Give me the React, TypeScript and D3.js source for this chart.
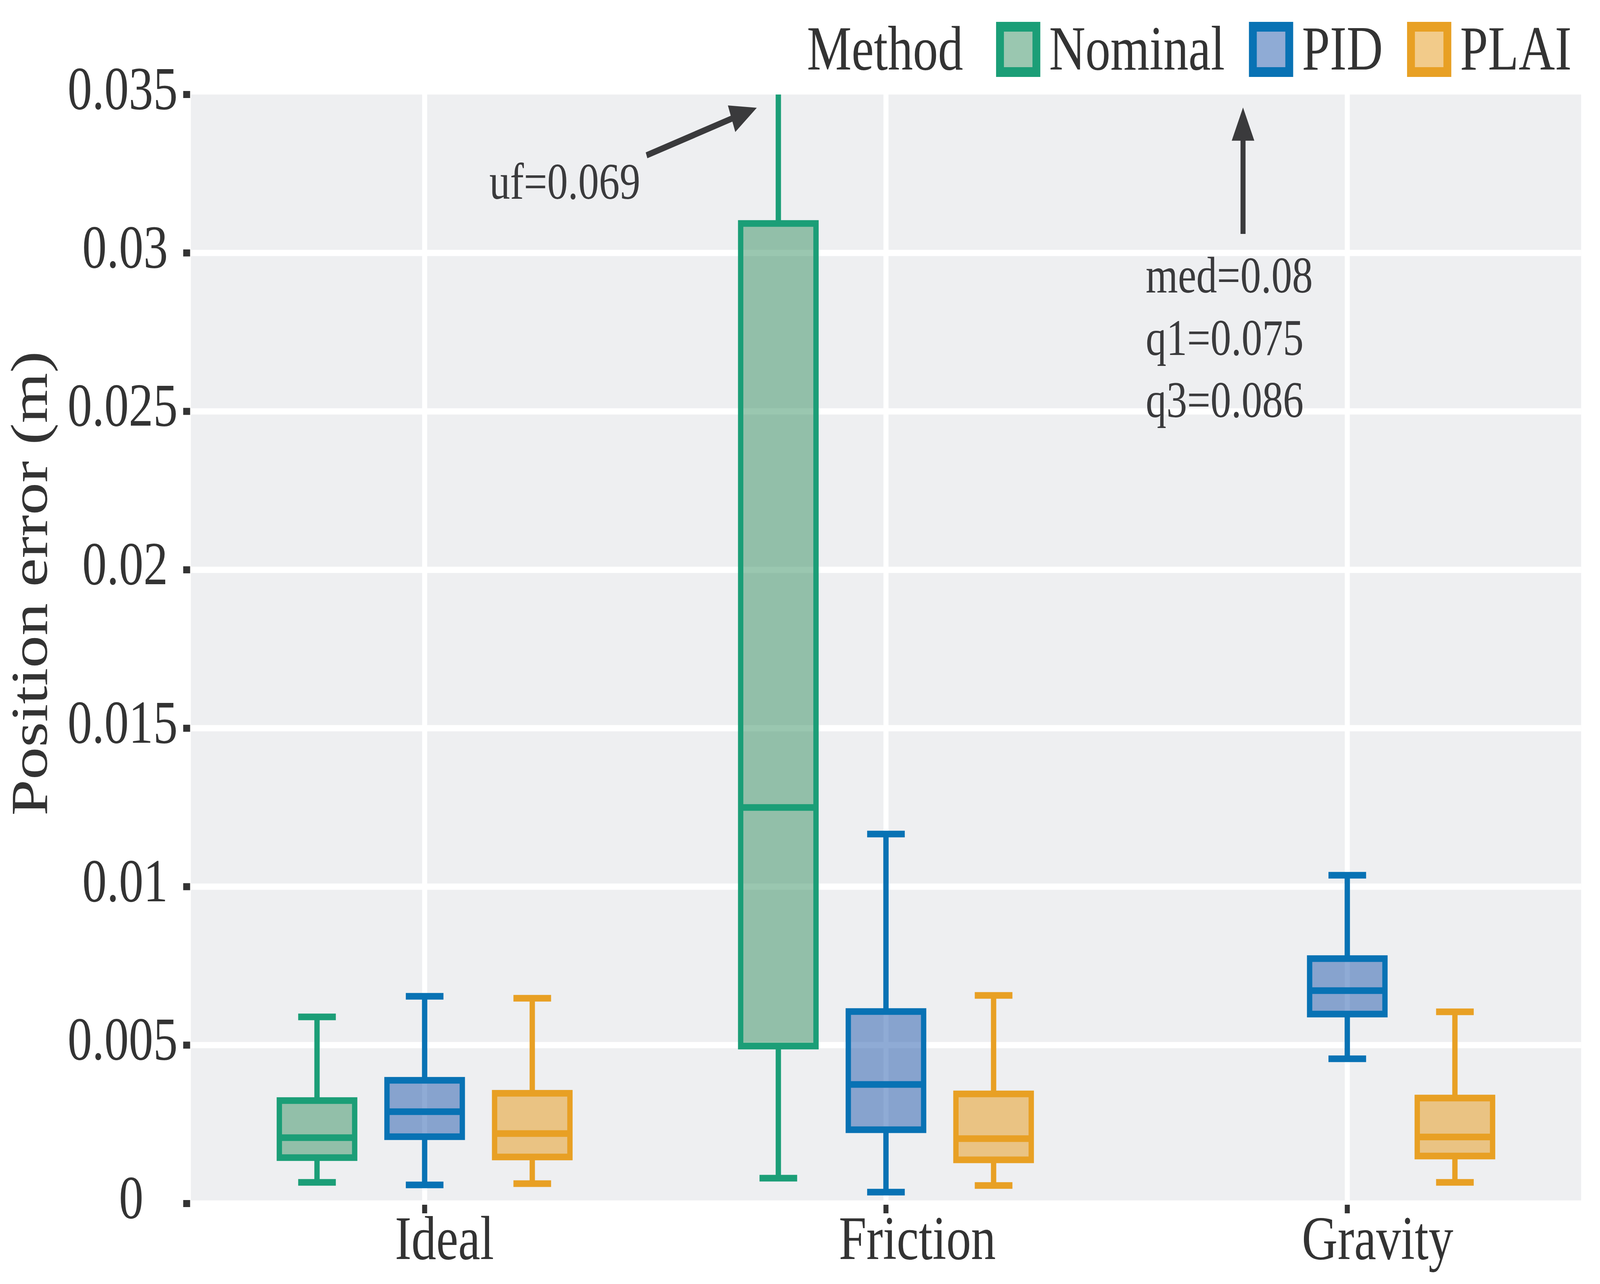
import React, { useEffect, useRef } from "react";
import * as d3 from "d3";

const categories = ["Ideal", "Friction", "Gravity"];
const methods = ["Nominal", "PID", "PLAI"];
const strokeColors = ["#1B9E77", "#0872B4", "#E8A024"];
const fillColors = ["#358F61", "#1F57AB", "#E59715"];

// [lower whisker, q1, median, q3, upper whisker] per category
const nominalStats = [
  [0.00067, 0.00145, 0.00208, 0.00325, 0.00589],
  [0.0008, 0.00497, 0.0125, 0.03093, 0.069],
  [0.07, 0.075, 0.08, 0.086, 0.095],
];
const pidStats = [
  [0.00059, 0.00211, 0.0029, 0.00389, 0.00654],
  [0.00036, 0.00233, 0.00376, 0.00606, 0.01166],
  [0.00457, 0.00598, 0.00672, 0.00773, 0.01036],
];
const plaiStats = [
  [0.00063, 0.00147, 0.00221, 0.00348, 0.00648],
  [0.00057, 0.00138, 0.00205, 0.00346, 0.00657],
  [0.00067, 0.0015, 0.0021, 0.00333, 0.00605],
];
const allStats = [nominalStats, pidStats, plaiStats];

const yTicks = [0, 0.005, 0.01, 0.015, 0.02, 0.025, 0.03, 0.035];
const yTickLabels = ["0", "0.005", "0.01", "0.015", "0.02", "0.025", "0.03", "0.035"];

const annotUf = "uf=0.069";
const annotGravity = ["med=0.08", "q1=0.075", "q3=0.086"];

const W = 5100;
const H = 3288;
const FONT = "'Liberation Serif', 'Times New Roman', Times, serif";

export default function App() {
  const ref = useRef<SVGSVGElement>(null);

  useEffect(() => {
    document.body.style.margin = "0";
    document.body.style.overflow = "hidden";
    const svg = d3.select(ref.current);
    svg.selectAll("*").remove();

    const pl = 608, pr = 5040, pt = 242, pb = 3074;
    const x = d3.scalePoint<string>().domain(categories).range([pl, pr]).padding(0.507);
    const step = x.step();
    const y = d3.scaleLinear().domain([0, 0.035]).range([3082, 242]);
    const xc = (i: number) => (x(categories[0]) as number) + i * step;

    const dodge = step * 0.2333;
    const boxW = step * 0.1633;
    const capW = step * 0.0816;
    const lw = 17;

    svg.append("rect").attr("width", W).attr("height", H).attr("fill", "#ffffff");

    const defs = svg.append("defs");
    defs.append("clipPath").attr("id", "panel").append("rect")
      .attr("x", pl).attr("y", pt).attr("width", pr - pl).attr("height", pb - pt);

    const panel = svg.append("g").attr("clip-path", "url(#panel)");
    panel.append("rect").attr("x", pl).attr("y", pt).attr("width", pr - pl).attr("height", pb - pt)
      .attr("fill", "#EEEFF1");

    // grid
    yTicks.filter((t) => t > 0 && t < 0.035).forEach((t) => {
      panel.append("line").attr("x1", pl).attr("x2", pr).attr("y1", y(t)).attr("y2", y(t))
        .attr("stroke", "#ffffff").attr("stroke-width", 16);
    });
    categories.forEach((c) => {
      panel.append("line").attr("x1", x(c)!).attr("x2", x(c)!).attr("y1", pt).attr("y2", pb)
        .attr("stroke", "#ffffff").attr("stroke-width", 16);
    });

    // boxes
    methods.forEach((m, mi) => {
      const g = panel.append("g");
      categories.forEach((c, ci) => {
        const [lo, q1, med, q3, hi] = allStats[mi][ci];
        const cx = (x(c) as number) + (mi - 1) * dodge;
        const col = strokeColors[mi];
        g.append("line").attr("x1", cx).attr("x2", cx).attr("y1", y(q3)).attr("y2", y(hi))
          .attr("stroke", col).attr("stroke-width", lw);
        g.append("line").attr("x1", cx).attr("x2", cx).attr("y1", y(q1)).attr("y2", y(lo))
          .attr("stroke", col).attr("stroke-width", lw);
        [lo, hi].forEach((v) => {
          g.append("line").attr("x1", cx - capW / 2).attr("x2", cx + capW / 2)
            .attr("y1", y(v)).attr("y2", y(v)).attr("stroke", col).attr("stroke-width", lw);
        });
        g.append("rect").attr("x", cx - boxW / 2).attr("width", boxW)
          .attr("y", y(q3)).attr("height", y(q1) - y(q3))
          .attr("fill", fillColors[mi]).attr("fill-opacity", 0.5)
          .attr("stroke", col).attr("stroke-width", lw);
        g.append("line").attr("x1", cx - boxW / 2).attr("x2", cx + boxW / 2)
          .attr("y1", y(med)).attr("y2", y(med)).attr("stroke", col).attr("stroke-width", lw);
      });
    });

    // annotations
    const annCol = "#3A3A3C";
    const arrow = (x1: number, y1: number, x2: number, y2: number) => {
      const dx = x2 - x1, dy = y2 - y1;
      const len = Math.hypot(dx, dy);
      const ux = dx / len, uy = dy / len;
      const hl = 85, hw = 36;
      const bx = x2 - ux * hl, by = y2 - uy * hl;
      panel.append("line").attr("x1", x1).attr("y1", y1).attr("x2", bx + ux * 5).attr("y2", by + uy * 5)
        .attr("stroke", annCol).attr("stroke-width", 16);
      panel.append("polygon")
        .attr("points", [[x2, y2], [bx - uy * hw, by + ux * hw], [bx + uy * hw, by - ux * hw]].map((p) => p.join(",")).join(" "))
        .attr("fill", annCol);
    };
    arrow(xc(0.481), y(0.03308), xc(0.72), y(0.03458));
    arrow(xc(1.774), y(0.0306), xc(1.774), y(0.03459));

    panel.append("text").attr("x", xc(0.304)).attr("y", y(0.03171))
      .attr("text-anchor", "middle").attr("font-family", FONT).attr("font-size", 132)
      .attr("fill", annCol).text(annotUf);
    annotGravity.forEach((s, i) => {
      panel.append("text").attr("x", xc(1.563)).attr("y", y(0.02875) + i * 159.5)
        .attr("font-family", FONT).attr("font-size", 132).attr("fill", annCol).text(s);
    });

    // axes
    const txtCol = "#333333";
    yTicks.forEach((t, i) => {
      svg.append("line").attr("x1", 584).attr("x2", 606).attr("y1", y(t)).attr("y2", y(t))
        .attr("stroke", txtCol).attr("stroke-width", 18);
      const tx = svg.append("text").attr("y", y(t) + 37).attr("font-family", FONT)
        .attr("font-size", 156).attr("fill", txtCol).text(yTickLabels[i]);
      const w = (tx.node() as SVGTextElement).getComputedTextLength();
      tx.attr("x", 426 - 0.6 * w);
    });
    categories.forEach((c) => {
      svg.append("line").attr("x1", x(c)!).attr("x2", x(c)!).attr("y1", 3085).attr("y2", 3107)
        .attr("stroke", txtCol).attr("stroke-width", 16);
      const tx = svg.append("text").attr("y", 3224).attr("font-family", FONT)
        .attr("font-size", 158).attr("fill", txtCol).text(c);
      const w = (tx.node() as SVGTextElement).getComputedTextLength();
      tx.attr("x", (x(c) as number) - 0.3 * w);
    });

    svg.append("text").attr("transform", "translate(150,1494) rotate(-90)")
      .attr("text-anchor", "middle").attr("font-family", FONT).attr("font-size", 166)
      .attr("fill", txtCol).text("Position error (m)");

    // legend
    const lg = svg.append("g");
    lg.append("text").attr("x", 2572).attr("y", 178).attr("font-family", FONT)
      .attr("font-size", 160).attr("fill", txtCol).text("Method");
    const keyX = [3175, 3981, 4485];
    methods.forEach((m, mi) => {
      lg.append("rect").attr("x", keyX[mi] + 12.5).attr("y", 56 + 12.5).attr("width", 116).attr("height", 116)
        .attr("fill", fillColors[mi]).attr("fill-opacity", 0.5)
        .attr("stroke", strokeColors[mi]).attr("stroke-width", 25);
      lg.append("text").attr("x", keyX[mi] + 169).attr("y", 178).attr("font-family", FONT)
        .attr("font-size", 160).attr("fill", txtCol).text(m);
    });
  }, []);

  return (
    <svg
      ref={ref}
      viewBox={`0 0 ${W} ${H}`}
      preserveAspectRatio="none"
      style={{ position: "absolute", left: 0, top: 0, width: "100vw", height: "100vh", display: "block" }}
    />
  );
}
